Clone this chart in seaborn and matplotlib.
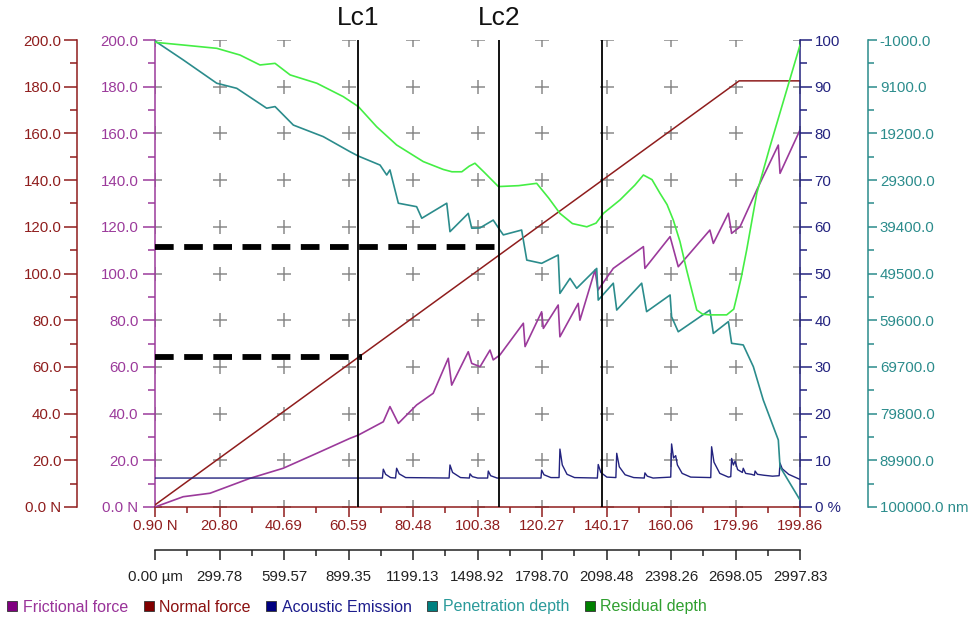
import numpy as np
import matplotlib
matplotlib.use("Agg")
import matplotlib.pyplot as plt
from matplotlib.lines import Line2D
from matplotlib.ticker import FixedLocator, MultipleLocator
import seaborn as sns

sns.set_style("white")
plt.rcParams["font.family"] = ["Liberation Sans", "DejaVu Sans"]

# ---------------------------------------------------------------- scales
scan_length = 2997.83  # µm
load_labels = ["0.90 N", "20.80", "40.69", "60.59", "80.48", "100.38",
               "120.27", "140.17", "160.06", "179.96", "199.86"]
dist_labels = ["0.00 µm", "299.78", "599.57", "899.35", "1199.13", "1498.92",
               "1798.70", "2098.48", "2398.26", "2698.05", "2997.83"]
force_ticks = [0, 20, 40, 60, 80, 100, 120, 140, 160, 180, 200]
ae_ticks = [0, 10, 20, 30, 40, 50, 60, 70, 80, 90, 100]
depth_ticks = [-1000, 9100, 19200, 29300, 39400, 49500, 59600, 69700,
               79800, 89900, 100000]

# ---------------------------------------------------------------- series
normal_um = [0, 2715, 2998]
normal_n = [0.9, 182.5, 182.5]

fric_um = [0, 131, 256, 442, 596, 752, 906, 945, 1061, 1092, 1131, 1216, 1293,
           1363, 1379, 1456, 1472, 1511, 1557, 1572, 1603, 1712, 1720, 1797,
           1805, 1874, 1882, 1967, 1975, 2045, 2059, 2130, 2270, 2277, 2394,
           2432, 2579, 2595, 2665, 2680, 2719, 2797, 2897, 2905, 2998]
fric_n = [0, 4.4, 5.9, 12.3, 16.6, 23.0, 29.4, 30.8, 36.5, 43.0, 35.8, 43.7,
          48.7, 63.7, 52.2, 66.5, 61.5, 60.1, 67.2, 63.0, 65.1, 78.7, 68.7,
          83.6, 76.5, 86.5, 72.9, 87.2, 80.0, 101.5, 92.9, 102.2, 111.5, 102.2,
          115.8, 102.9, 118.6, 112.9, 125.8, 117.2, 120.0, 135.8, 155.0, 142.9,
          161.5]

ae_um = [0, 1057, 1061, 1072, 1095, 1118, 1123, 1135, 1165, 1367, 1371, 1383,
         1420, 1461, 1464, 1475, 1500, 1546, 1549, 1560, 1590, 1794, 1797,
         1808, 1840, 1878, 1882, 1893, 1915, 1950, 2056, 2060, 2072, 2100,
         2142, 2146, 2158, 2185, 2225, 2274, 2277, 2288, 2315, 2397, 2401,
         2410, 2420, 2428, 2450, 2490, 2583, 2587, 2598, 2625, 2665, 2676,
         2680, 2688, 2696, 2708, 2730, 2734, 2745, 2772, 2786, 2789, 2800,
         2830, 2870, 2901, 2905, 2915, 2945, 2998]
ae_pct = [6.2, 6.2, 8.1, 7.0, 6.3, 6.2, 8.3, 7.1, 6.3, 6.2, 9.0, 7.4, 6.3,
          6.2, 7.1, 6.5, 6.2, 6.2, 7.7, 6.7, 6.2, 6.2, 7.9, 6.9, 6.3, 6.3,
          12.4, 9.0, 7.0, 6.3, 6.2, 9.1, 7.4, 6.4, 6.3, 11.5, 8.6, 6.9, 6.3,
          6.2, 7.3, 6.6, 6.2, 6.4, 13.5, 10.5, 11.0, 9.0, 7.2, 6.4, 6.3, 12.9,
          9.6, 7.2, 6.4, 6.5, 10.4, 9.0, 9.8, 8.0, 7.4, 8.3, 7.2, 7.0, 6.8,
          7.7, 7.0, 6.8, 6.6, 6.7, 9.4, 8.2, 7.0, 5.9]

pen_um = [0, 131, 287, 380, 519, 558, 643, 782, 906, 945, 1046, 1077, 1092,
          1131, 1216, 1240, 1356, 1371, 1456, 1472, 1510, 1572, 1603, 1619,
          1704, 1728, 1797, 1874, 1882, 1929, 1960, 2053, 2060, 2130, 2146,
          2262, 2285, 2394, 2401, 2432, 2579, 2595, 2665, 2680, 2734, 2781,
          2827, 2897, 2905, 2998]
pen_nm = [-780, 3300, 8350, 9450, 13750, 13400, 17400, 19900, 23150, 24100,
          26050, 28200, 27100, 34300, 35050, 37550, 34300, 40450, 36500, 39700,
          39650, 37950, 40100, 41150, 40100, 46600, 47300, 45500, 53800, 50550,
          52700, 48400, 55250, 51600, 57400, 51600, 57750, 54150, 58850, 62100,
          57400, 62450, 59900, 64600, 64950, 69650, 76850, 85500, 91300, 98500]

res_um = [0, 130, 287, 395, 488, 558, 628, 752, 875, 945, 1030, 1123, 1247,
          1340, 1380, 1426, 1460, 1487, 1530, 1596, 1690, 1774, 1830, 1882,
          1940, 2007, 2050, 2084, 2161, 2230, 2270, 2310, 2347, 2380, 2409,
          2440, 2471, 2518, 2545, 2580, 2657, 2690, 2704, 2725, 2750, 2797,
          2858, 2998]
res_nm = [-500, 80, 800, 2250, 4400, 4050, 6550, 8350, 11250, 13400, 17750,
          21700, 25300, 27000, 27500, 27500, 26300, 25650, 27600, 30700, 30500,
          30000, 33200, 36500, 38700, 39400, 38600, 36500, 33600, 30400, 28200,
          29200, 32150, 34600, 37950, 42600, 48750, 57400, 58300, 58450, 58450,
          57200, 54500, 50300, 44400, 32150, 22100, 80]

# critical loads
lc_um = [943, 1599, 2079]
lc_names = ["Lc1", "Lc2", ""]
lc_load_n = [64.1, 111.3]
lc_load_end_um = [962, 1627]

# ---------------------------------------------------------------- colours
RED = "#8f1d1d"
PURPLE = "#9b3a9b"
NAVY = "#23237f"
TEAL = "#2b8c8c"
GREEN = "#44ee44"
GRID = "#8a8a8a"

W, H = 973, 620
PX = 0.72  # points per pixel at 100 dpi
fig = plt.figure(figsize=(W / 100, H / 100), dpi=100)
ax = fig.add_axes([155 / W, 113 / H, 645 / W, 467 / H])

# grid crosses at every major intersection
gx, gy = np.meshgrid(np.linspace(0, scan_length, 11), force_ticks)
ax.plot(gx.ravel(), gy.ravel(), ls="none", marker="+", ms=10, mew=1.1,
        color=GRID, zorder=1)

sns.lineplot(x=fric_um, y=fric_n, ax=ax, color=PURPLE, lw=1.2,
             sort=False, estimator=None, zorder=3)

ax_red = ax.twinx()
sns.lineplot(x=normal_um, y=normal_n, ax=ax_red, color=RED, lw=1.1,
             sort=False, estimator=None)
ax_pct = ax.twinx()
sns.lineplot(x=ae_um, y=ae_pct, ax=ax_pct, color=NAVY, lw=1.0,
             sort=False, estimator=None)
ax_nm = ax.twinx()
sns.lineplot(x=pen_um, y=pen_nm, ax=ax_nm, color=TEAL, lw=1.2,
             sort=False, estimator=None)
sns.lineplot(x=res_um, y=res_nm, ax=ax_nm, color=GREEN, lw=1.2,
             sort=False, estimator=None)
ax_um = ax.twiny()

for a in (ax, ax_red, ax_pct, ax_nm, ax_um):
    a.set_xlim(0, scan_length)
    a.set_xlabel("")
    a.set_ylabel("")
    for s in a.spines.values():
        s.set_visible(False)
        s.set_linewidth(1.1)
ax.set_ylim(0, 200)
ax_red.set_ylim(0, 200)
ax_pct.set_ylim(0, 100)
ax_nm.set_ylim(100000, -1000)

TS = 10.8
# purple force axis (plot edge)
ax.spines["left"].set_visible(True)
ax.spines["left"].set_color(PURPLE)
ax.set_yticks(force_ticks)
ax.set_yticklabels([f"{v:.1f}" + (" N" if v == 0 else "") for v in force_ticks])
ax.yaxis.set_minor_locator(MultipleLocator(10))
ax.tick_params(axis="y", which="major", direction="out", length=8.4, width=1.1,
               color=PURPLE, labelcolor=PURPLE, labelsize=TS, pad=3.5)
ax.tick_params(axis="y", which="minor", direction="out", length=5, width=1.1,
               color=PURPLE)

# red load axis along the bottom edge
ax.spines["bottom"].set_visible(True)
ax.spines["bottom"].set_color(RED)
ax.set_xticks(np.linspace(0, scan_length, 11))
ax.set_xticklabels(load_labels)
ax.xaxis.set_minor_locator(FixedLocator(np.linspace(0, scan_length, 21)))
ax.tick_params(axis="x", which="major", direction="out", length=7, width=1.1,
               color=RED, labelcolor=RED, labelsize=TS, pad=1.5)
ax.tick_params(axis="x", which="minor", direction="out", length=4, width=1.1,
               color=RED)

# outer red normal-force axis
ax_red.spines["left"].set_visible(True)
ax_red.spines["left"].set_position(("outward", 78 * PX))
ax_red.spines["left"].set_color(RED)
ax_red.yaxis.set_ticks_position("left")
ax_red.set_yticks(force_ticks)
ax_red.set_yticklabels([f"{v:.1f}" + (" N" if v == 0 else "") for v in force_ticks])
ax_red.yaxis.set_minor_locator(MultipleLocator(10))
ax_red.tick_params(axis="y", which="major", direction="out", length=9.6,
                   width=1.1, color=RED, labelcolor=RED, labelsize=TS, pad=1.5)
ax_red.tick_params(axis="y", which="minor", direction="out", length=5,
                   width=1.1, color=RED)

# acoustic emission axis
ax_pct.spines["right"].set_visible(True)
ax_pct.spines["right"].set_color(NAVY)
ax_pct.set_yticks(ae_ticks)
ax_pct.set_yticklabels([f"{v}" + (" %" if v == 0 else "") for v in ae_ticks])
ax_pct.yaxis.set_minor_locator(MultipleLocator(5))
ax_pct.tick_params(axis="y", which="major", direction="out", length=8.5,
                   width=1.1, color=NAVY, labelcolor=NAVY, labelsize=TS, pad=2)
ax_pct.tick_params(axis="y", which="minor", direction="out", length=5,
                   width=1.1, color=NAVY)

# depth axis
ax_nm.spines["right"].set_visible(True)
ax_nm.spines["right"].set_position(("outward", 68 * PX))
ax_nm.spines["right"].set_color(TEAL)
ax_nm.set_yticks(depth_ticks)
ax_nm.set_yticklabels([f"{v:.1f}" + (" nm" if v == 100000 else "")
                       for v in depth_ticks])
ax_nm.yaxis.set_minor_locator(FixedLocator(
    np.array(depth_ticks[:-1]) + 5050))
ax_nm.tick_params(axis="y", which="major", direction="out", length=6.5,
                  width=1.1, color=TEAL, labelcolor=TEAL, labelsize=TS, pad=2)
ax_nm.tick_params(axis="y", which="minor", direction="out", length=4,
                  width=1.1, color=TEAL)

# scan distance axis
ax_um.xaxis.set_ticks_position("bottom")
ax_um.spines["bottom"].set_visible(True)
ax_um.spines["bottom"].set_position(("outward", 43 * PX))
ax_um.spines["bottom"].set_color("#222222")
ax_um.set_xticks(np.linspace(0, scan_length, 11))
ax_um.set_xticklabels(dist_labels)
ax_um.xaxis.set_minor_locator(FixedLocator(np.linspace(0, scan_length, 21)))
ax_um.tick_params(axis="x", which="major", direction="out", length=7,
                  width=1.1, color="#222222", labelcolor="#222222",
                  labelsize=TS, pad=7.5)
ax_um.tick_params(axis="x", which="minor", direction="out", length=4,
                  width=1.1, color="#222222")

# critical-load markers
for x, name in zip(lc_um, lc_names):
    ax_um.axvline(x, color="black", lw=1.3, zorder=5)
    if name:
        ax_um.text(x, 1.047, name, transform=ax_um.get_xaxis_transform(),
                   ha="center", va="center", fontsize=19, color="#111111")
for load, xe in zip(lc_load_n, lc_load_end_um):
    ax_um.plot([0, xe], [load, load], color="black", lw=4.2,
               dashes=(3.2, 1.8), solid_capstyle="butt", zorder=6)

# legend
names = ["Frictional force", "Normal force", "Acoustic Emission",
         "Penetration depth", "Residual depth"]
swatch = ["#800080", "#800000", "#000080", "#008080", "#008000"]
text_col = ["#993399", "#8b1010", "#1c1c8c", "#2a9a9a", "#2f9f2f"]
handles = [Line2D([], [], ls="none", marker="s", ms=7, mfc=c, mec="#333333",
                  mew=0.6) for c in swatch]
fig.legend(handles, names, loc="center left", bbox_to_anchor=(0.002, 13 / H),
           ncol=5, frameon=False, labelcolor=text_col, fontsize=11.5,
           handlelength=0.7, handletextpad=0.3, columnspacing=0.95,
           borderaxespad=0.3, borderpad=0.0)

fig.savefig("out.png", dpi=100, facecolor="white")
